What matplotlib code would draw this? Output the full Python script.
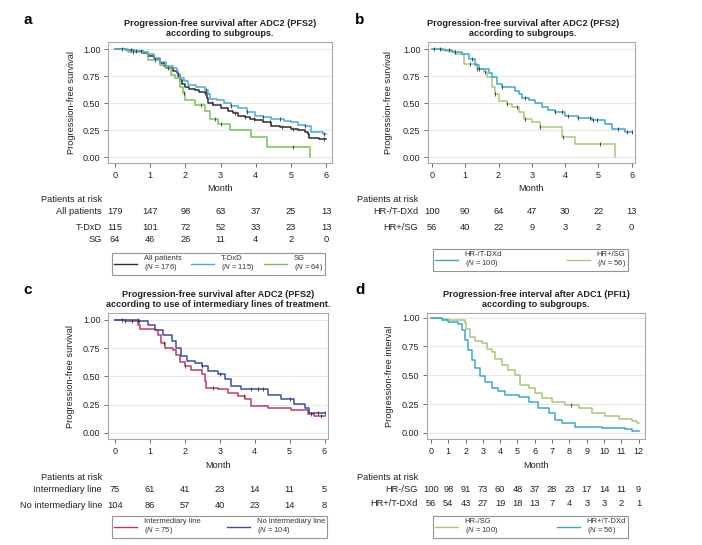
import numpy as np
import matplotlib
matplotlib.use("Agg")
import matplotlib.pyplot as plt
from matplotlib.lines import Line2D
from matplotlib.transforms import blended_transform_factory

plt.rcParams['font.family'] = ['Liberation Sans', 'DejaVu Sans']
plt.rcParams['mathtext.fontset'] = 'custom'
plt.rcParams['mathtext.it'] = 'Liberation Sans:italic'
plt.rcParams['mathtext.rm'] = 'Liberation Sans'

# ---------------- data ----------------
# Panel a
a_all_t = [0, 0.3, 0.55, 0.8, 0.95, 1.1, 1.28, 1.4, 1.46, 1.65, 1.75, 1.8, 1.84, 1.9, 1.98, 2.1, 2.27, 2.4, 2.55,
           2.62, 2.65, 2.8, 3.02, 3.2, 3.35, 3.5, 3.7, 3.85, 3.97, 4.2, 4.44, 4.7, 5.0, 5.2, 5.39, 5.5, 5.53, 5.8]
a_all_s = [1, 0.99, 0.98, 0.96, 0.94, 0.91, 0.87, 0.84, 0.82, 0.80, 0.78, 0.75, 0.71, 0.68, 0.65, 0.63, 0.62, 0.60,
           0.59, 0.55, 0.50, 0.48, 0.45, 0.43, 0.41, 0.38, 0.37, 0.35, 0.34, 0.32, 0.29, 0.28, 0.26, 0.25, 0.23,
           0.21, 0.18, 0.17]
a_all_end = 6.0
a_all_cens = [0.2, 0.45, 0.6, 0.75, 1.5, 2.55, 2.75, 3.4, 3.7, 3.95, 4.4, 4.75, 5.05, 5.5, 5.95]

a_tdxd_t = [0, 0.3, 0.55, 0.8, 0.95, 1.1, 1.28, 1.46, 1.65, 1.75, 1.8, 1.86, 1.95, 2.08, 2.3, 2.55, 2.65, 2.7,
            2.9, 3.1, 3.3, 3.5, 3.75, 3.97, 4.2, 4.44, 4.8, 5.0, 5.2, 5.4, 5.58, 5.9]
a_tdxd_s = [1, 0.99, 0.98, 0.97, 0.95, 0.92, 0.88, 0.84, 0.82, 0.80, 0.77, 0.73, 0.70, 0.67, 0.65, 0.62, 0.58,
            0.54, 0.525, 0.50, 0.47, 0.45, 0.42, 0.38, 0.37, 0.35, 0.33, 0.32, 0.30, 0.29, 0.23, 0.21]
a_tdxd_end = 6.0
a_tdxd_cens = [1.8, 2.6, 3.3, 3.75, 4.2, 4.7, 5.4, 5.95]

a_sg_t = [0, 0.38, 0.9, 0.95, 1.28, 1.45, 1.6, 1.7, 1.84, 1.94, 2.0, 2.27, 2.55, 2.69, 2.93, 3.27, 3.88, 4.31, 5.55]
a_sg_s = [1, 0.97, 0.955, 0.90, 0.85, 0.82, 0.76, 0.73, 0.65, 0.59, 0.525, 0.48, 0.43, 0.35, 0.31, 0.25, 0.19,
          0.09, 0.0]
a_sg_end = 5.55
a_sg_cens = [0.5, 1.15, 1.95, 2.45, 2.85, 3.0, 5.06]

a_months = [0, 1, 2, 3, 4, 5, 6]
a_risk_labels = ["All patients", "T-DxD", "SG"]
a_risk = [[179, 147, 98, 63, 37, 25, 13],
          [115, 101, 72, 52, 33, 23, 13],
          [64, 46, 26, 11, 4, 2, 0]]
a_legend = ["All patients\n($\\mathit{N}$ = 176)", "T-DxD\n($\\mathit{N}$ = 115)", "SG\n($\\mathit{N}$ = 64)"]

# Panel b
b_tdxd_t = [0, 0.3, 0.6, 0.9, 1.1, 1.3, 1.4, 1.7, 1.8, 1.95, 2.1, 2.5, 2.6, 2.7, 2.9, 3.1, 3.3, 3.5, 3.7, 4.0,
            4.4, 4.8, 5.2, 5.4, 5.8]
b_tdxd_s = [1, 0.99, 0.975, 0.95, 0.91, 0.85, 0.815, 0.78, 0.74, 0.68, 0.65, 0.615, 0.58, 0.55, 0.53, 0.50, 0.46,
            0.44, 0.415, 0.38, 0.36, 0.34, 0.31, 0.26, 0.23]
b_tdxd_end = 6.0
b_tdxd_cens = [0.05, 0.25, 0.5, 0.7, 1.2, 1.4, 2.1, 2.8, 3.7, 3.9, 4.1, 4.4, 4.75, 4.85, 4.95, 5.6, 5.85, 6.0]

b_sg_t = [0, 0.4, 0.7, 0.95, 1.35, 1.55, 1.65, 1.8, 1.9, 2.0, 2.25, 2.4, 2.6, 2.75, 3.0, 3.25, 3.9, 4.3, 5.5]
b_sg_s = [1, 0.98, 0.95, 0.86, 0.815, 0.785, 0.74, 0.65, 0.585, 0.52, 0.49, 0.46, 0.415, 0.35, 0.32, 0.28, 0.185,
          0.12, 0.0]
b_sg_end = 5.5
b_sg_cens = [1.15, 1.35, 1.6, 1.9, 2.25, 2.55, 2.8, 3.25, 3.95, 5.05]

b_months = [0, 1, 2, 3, 4, 5, 6]
b_risk_labels = ["HR-/T-DXd", "HR+/SG"]
b_risk = [[100, 90, 64, 47, 30, 22, 13],
          [56, 40, 22, 9, 3, 2, 0]]
b_legend = ["HR-/T-DXd\n($\\mathit{N}$ = 100)", "HR+/SG\n($\\mathit{N}$ = 56)"]

# Panel c
c_int_t = [0, 0.3, 0.67, 0.72, 1.14, 1.24, 1.33, 1.43, 1.67, 1.76, 1.86, 2.0, 2.19, 2.48, 2.57, 2.62, 2.95, 3.24,
           3.52, 3.71, 3.9, 4.38, 5.05, 5.52, 5.71]
c_int_s = [1, 0.985, 0.956, 0.92, 0.906, 0.87, 0.795, 0.75, 0.737, 0.69, 0.63, 0.59, 0.56, 0.52, 0.46, 0.40,
           0.386, 0.357, 0.33, 0.30, 0.24, 0.22, 0.20, 0.17, 0.15]
c_int_end = 6.0
c_int_cens = [0.3, 0.5, 1.4, 2.0, 2.8, 3.7, 5.6, 5.9]

c_noint_t = [0, 0.67, 0.95, 1.14, 1.38, 1.62, 1.76, 1.9, 2.05, 2.29, 2.48, 2.67, 2.95, 3.14, 3.33, 3.62, 4.38,
             4.76, 5.14, 5.43, 5.57]
c_noint_s = [1, 0.985, 0.956, 0.91, 0.87, 0.81, 0.75, 0.68, 0.635, 0.62, 0.59, 0.547, 0.52, 0.474, 0.415, 0.386,
             0.34, 0.30, 0.254, 0.225, 0.175]
c_noint_end = 6.0
c_noint_cens = [0.2, 0.65, 0.7, 2.5, 3.0, 3.9, 4.1, 4.25, 5.0, 5.8, 6.0]

c_months = [0, 1, 2, 3, 4, 5, 6]
c_risk_labels = ["Intermediary line", "No intermediary line"]
c_risk = [[75, 61, 41, 23, 14, 11, 5],
          [104, 86, 57, 40, 23, 14, 8]]
c_legend = ["Intermediary line\n($\\mathit{N}$ = 75)", "No intermediary line\n($\\mathit{N}$ = 104)"]

# Panel d
d_sg_t = [0, 0.62, 1.0, 1.97, 2.05, 2.26, 2.55, 2.93, 3.22, 3.5, 3.7, 4.1, 4.48, 4.86, 5.15, 5.64, 6.0, 6.4,
          7.0, 7.76, 8.53, 9.3, 10.08, 10.85, 11.6, 11.9]
d_sg_s = [1, 0.99, 0.977, 0.95, 0.905, 0.83, 0.80, 0.776, 0.73, 0.70, 0.645, 0.59, 0.546, 0.50, 0.417, 0.39,
          0.345, 0.30, 0.273, 0.245, 0.215, 0.17, 0.144, 0.124, 0.10, 0.086]
d_sg_end = 12.0
d_sg_cens = [8.1]

d_tdxd_t = [0, 0.62, 1.0, 1.58, 1.78, 1.97, 2.16, 2.36, 2.55, 2.84, 3.13, 3.5, 3.9, 4.29, 5.06, 5.64, 6.2, 6.8,
            7.18, 7.57, 8.34, 9.9, 11.2, 11.6]
d_tdxd_s = [1, 0.983, 0.963, 0.948, 0.89, 0.805, 0.72, 0.63, 0.56, 0.49, 0.445, 0.39, 0.36, 0.33, 0.31, 0.273,
            0.215, 0.17, 0.115, 0.086, 0.052, 0.043, 0.034, 0.014]
d_tdxd_end = 12.0
d_tdxd_cens = []

d_months = list(range(13))
d_risk_labels = ["HR-/SG", "HR+/T-DXd"]
d_risk = [[100, 98, 91, 73, 60, 48, 37, 28, 23, 17, 14, 11, 9],
          [56, 54, 43, 27, 19, 18, 13, 7, 4, 3, 3, 2, 1]]
d_legend = ["HR-/SG\n($\\mathit{N}$ = 100)", "HR+/T-DXd\n($\\mathit{N}$ = 56)"]

y_ticks = [0.0, 0.25, 0.5, 0.75, 1.0]
y_ticklabels = ["0.00", "0.25", "0.50", "0.75", "1.00"]

# ---------------- colours ----------------
C_BLACK = '#2e2e2e'
C_ABLUE = '#4ea7df'
C_AGREEN = '#78c156'
C_TEAL = '#3aa8c6'
C_OLIVE = '#a6c87c'
C_RED = '#c03a5f'
C_NAVY = '#3a4ea3'

FS = 6.7      # general text
FS_TICK = 6.5
FS_LEG = 5.5

W, H = 702, 545
fig = plt.figure(figsize=(W / 100, H / 100), dpi=100)


def fx(x):
    return x / W


def fy(y):
    return 1 - y / H


def add_ax(l, t, r, b):
    return fig.add_axes([fx(l), fy(b), (r - l) / W, (b - t) / H])


def km(ax, t, s, end, cens, color):
    tt = list(t) + [end]
    ss = list(s) + [s[-1]]
    ax.plot(tt, ss, drawstyle='steps-post', color=color, lw=1.1, zorder=3)
    if cens:
        idx = np.searchsorted(np.array(t), np.array(cens), side='right') - 1
        cs = np.array(s)[idx]
        ax.plot(cens, cs, ls='none', marker='|', ms=2.2, mew=0.6, color='#333333', zorder=4)


def style(ax, xlim, ylim, months, ylabel, title, title_x=0.5):
    ax.set_xlim(*xlim)
    ax.set_ylim(*ylim)
    ax.set_xticks(months)
    ax.set_xticklabels([str(m) for m in months])
    ax.set_yticks(y_ticks)
    ax.set_yticklabels(y_ticklabels)
    for yv in y_ticks:
        ax.axhline(yv, color='#e8e8e8', lw=0.8, zorder=1)
    for sp in ax.spines.values():
        sp.set_color('#a8a8a8')
        sp.set_linewidth(0.8)
    ax.tick_params(axis='both', labelsize=FS_TICK, length=3, width=0.6, color='#555555', pad=2.5,
                   labelcolor='#222222')
    ax.set_ylabel(ylabel, fontsize=FS, color='#222222')
    ax.set_xlabel('Month', fontsize=FS, color='#222222')
    ax.set_title(title, fontsize=6.6, fontweight='bold', linespacing=1.25, pad=4, x=title_x,
                 color='#222222')


def risk_table(ax, months, labels, rows, label_x, head_y, row_ys):
    tr = blended_transform_factory(ax.transData, fig.transFigure)
    fig.text(fx(label_x), fy(head_y), 'Patients at risk', ha='right', va='center', fontsize=FS,
             color='#222222')
    for lab, row, ry in zip(labels, rows, row_ys):
        fig.text(fx(label_x), fy(ry), lab, ha='right', va='center', fontsize=FS, color='#222222')
        for m, v in zip(months, row):
            ax.text(m, fy(ry), str(v), transform=tr, ha='center', va='center', fontsize=FS,
                    color='#222222', clip_on=False)


def legend(ax, handles_colors, labels, box):
    l, t, r, b = box
    handles = [Line2D([], [], color=c, lw=1.0) for c in handles_colors]
    leg = ax.legend(handles, labels, loc='upper left', ncol=len(labels),
                    bbox_to_anchor=(fx(l), fy(b), (r - l) / W, (b - t) / H), bbox_transform=fig.transFigure,
                    mode='expand', fontsize=FS_LEG, frameon=True, fancybox=False, edgecolor='#7a7a7a',
                    handlelength=3.0, handletextpad=0.9, borderpad=0.25, borderaxespad=0,
                    columnspacing=1.0)
    leg.get_frame().set_linewidth(0.8)
    for txt in leg.get_texts():
        txt.set_color('#333333')
        txt.set_linespacing(1.05)


# ---------------- panel a ----------------
axa = add_ax(108, 42, 332, 163)
km(axa, a_all_t, a_all_s, a_all_end, a_all_cens, C_BLACK)
km(axa, a_sg_t, a_sg_s, a_sg_end, a_sg_cens, C_AGREEN)
km(axa, a_tdxd_t, a_tdxd_s, a_tdxd_end, a_tdxd_cens, C_ABLUE)
style(axa, (-0.2, 6.17), (-0.055, 1.065), a_months, 'Progression-free survival',
      'Progression-free survival after ADC2 (PFS2)\naccording to subgroups.')
axa.yaxis.set_label_coords(-0.145, 0.5)
axa.xaxis.set_label_coords(0.5, -0.172)
risk_table(axa, a_months, a_risk_labels, a_risk, 102, 200, [212, 227, 240])
legend(axa, [C_BLACK, C_ABLUE, C_AGREEN], a_legend, (112, 253, 325, 272))
fig.text(fx(28), fy(20), 'a', fontsize=11, fontweight='bold', ha='center', va='center')

# ---------------- panel b ----------------
axb = add_ax(428, 42, 635, 163)
km(axb, b_sg_t, b_sg_s, b_sg_end, b_sg_cens, C_OLIVE)
km(axb, b_tdxd_t, b_tdxd_s, b_tdxd_end, b_tdxd_cens, C_TEAL)
style(axb, (-0.12, 6.1), (-0.055, 1.065), b_months, 'Progression-free survival',
      'Progression-free survival after ADC2 (PFS2)\naccording to subgroups.', title_x=0.46)
axb.yaxis.set_label_coords(-0.17, 0.5)
axb.xaxis.set_label_coords(0.5, -0.172)
risk_table(axb, b_months, b_risk_labels, b_risk, 418, 200, [212, 227])
legend(axb, [C_TEAL, C_OLIVE], b_legend, (433, 249, 628, 271))
fig.text(fx(360), fy(20), 'b', fontsize=11, fontweight='bold', ha='center', va='center')

# ---------------- panel c ----------------
axc = add_ax(108, 313, 328, 439)
km(axc, c_int_t, c_int_s, c_int_end, c_int_cens, C_RED)
km(axc, c_noint_t, c_noint_s, c_noint_end, c_noint_cens, C_NAVY)
style(axc, (-0.2, 6.1), (-0.053, 1.06), c_months, 'Progression-free survival',
      'Progression-free survival after ADC2 (PFS2)\naccording to use of intermediary lines of treatment.')
axc.yaxis.set_label_coords(-0.15, 0.5)
axc.xaxis.set_label_coords(0.5, -0.172)
risk_table(axc, c_months, c_risk_labels, c_risk, 102, 478, [489, 505])
legend(axc, [C_RED, C_NAVY], c_legend, (112, 516, 327, 537))
fig.text(fx(28), fy(290), 'c', fontsize=11, fontweight='bold', ha='center', va='center')

# ---------------- panel d ----------------
axd = add_ax(427, 313, 645, 439)
km(axd, d_sg_t, d_sg_s, d_sg_end, d_sg_cens, C_OLIVE)
km(axd, d_tdxd_t, d_tdxd_s, d_tdxd_end, d_tdxd_cens, C_TEAL)
style(axd, (-0.23, 12.37), (-0.052, 1.04), d_months, 'Progression-free interval',
      'Progression-free interval after ADC1 (PFI1)\naccording to subgroups.')
axd.yaxis.set_label_coords(-0.15, 0.5)
axd.xaxis.set_label_coords(0.5, -0.172)
risk_table(axd, d_months, d_risk_labels, d_risk, 418, 478, [489, 504])
legend(axd, [C_OLIVE, C_TEAL], d_legend, (433, 516, 628, 537))
fig.text(fx(360), fy(290), 'd', fontsize=11, fontweight='bold', ha='center', va='center')

fig.savefig('out.png', dpi=100)
